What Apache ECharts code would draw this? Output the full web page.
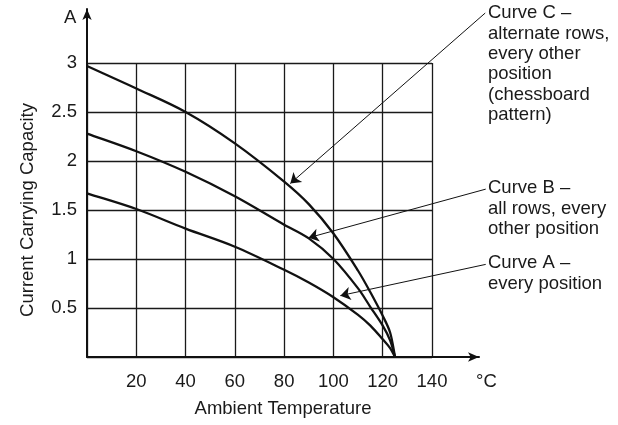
<!DOCTYPE html>
<html>
<head>
<meta charset="utf-8">
<script src="https://cdn.jsdelivr.net/npm/echarts@6/dist/echarts.min.js"></script>
<style>
html,body{margin:0;padding:0;background:#fff;}
#chart{width:618px;height:425px;}
</style>
</head>
<body>
<div id="chart"></div>
<script>
// ---- data ----
const temps  = [0, 20, 40, 60, 80, 90, 100, 110, 115, 120, 123, 125];
const curveA = [1.67, 1.51, 1.31, 1.125, 0.89, 0.76, 0.61, 0.43, 0.32, 0.18, 0.09, 0];
const curveB = [2.28, 2.10, 1.89, 1.64, 1.35, 1.21, 1.00, 0.70, 0.51, 0.32, 0.17, 0];
const curveC = [2.97, 2.74, 2.50, 2.18, 1.79, 1.56, 1.26, 0.88, 0.66, 0.42, 0.25, 0];

const xTickLabels = ['20', '40', '60', '80', '100', '120', '140'];
const yTickLabels = ['0.5', '1', '1.5', '2', '2.5', '3'];

// leader arrows (data coordinates: start -> tip)
const leaderC = [[161.6, 3.51], [82.5, 1.77]];
const leaderB = [[161.8, 1.713], [89.9, 1.217]];
const leaderA = [[161.8, 0.945], [102.8, 0.626]];

const noteC = 'Curve C –\nalternate rows,\nevery other\nposition\n(chessboard\npattern)';
const noteB = 'Curve B –\nall rows, every\nother position';
const noteA = 'Curve A –\nevery position';

const xName = 'Ambient Temperature';
const yName = 'Current Carrying Capacity';
const xUnit = '°C';
const yUnit = 'A';

// ---- chart ----
const FONT = '"Liberation Sans", Arial, sans-serif';
const FS = 18.5;
const TXT = '#1a1a1a';
const pair = (xs, ys) => xs.map((x, i) => [x, ys[i]]);

const chart = echarts.init(document.getElementById('chart'), null, {renderer: 'canvas'});

// smooth curve through the points mapped by the axes (chord-scaled Hermite -> cubic Bezier)
function smoothPath(pts) {
  const n = pts.length;
  const tan = pts.map((p, i) => {
    const a = pts[Math.max(i - 1, 0)], b = pts[Math.min(i + 1, n - 1)];
    const dx = b[0] - a[0], dy = b[1] - a[1];
    const l = Math.hypot(dx, dy) || 1;
    return [dx / l, dy / l];
  });
  let d = 'M' + pts[0][0] + ' ' + pts[0][1];
  for (let i = 0; i < n - 1; i++) {
    const p = pts[i], q = pts[i + 1];
    const L = Math.hypot(q[0] - p[0], q[1] - p[1]) / 3;
    const c1 = [p[0] + tan[i][0] * L, p[1] + tan[i][1] * L];
    const c2 = [q[0] - tan[i + 1][0] * L, q[1] - tan[i + 1][1] * L];
    d += ' C' + c1[0] + ' ' + c1[1] + ' ' + c2[0] + ' ' + c2[1] + ' ' + q[0] + ' ' + q[1];
  }
  return d;
}

const curveSeries = (name, ys) => ({
  name, type: 'custom', xAxisIndex: 0, yAxisIndex: 0,
  data: pair(temps, ys),
  clip: false,
  renderItem: (params, api) => {
    if (params.dataIndex !== 0) return null;
    const pts = temps.map((x, i) => api.coord([x, ys[i]]));
    return {
      type: 'path',
      shape: {pathData: smoothPath(pts)},
      style: {stroke: '#111', lineWidth: 2.3, fill: null},
      z2: 5
    };
  },
  z: 5
});

const noteText = (text, left, top) => ({
  type: 'text', left, top,
  style: {text, font: FS + 'px ' + FONT, fill: TXT, lineHeight: 20.4}
});

chart.setOption({
  animation: false,
  backgroundColor: '#fff',
  grid: [
    {left: 87, top: 63, width: 345, height: 294, containLabel: false},
    {left: 87, top: 9, right: 139, bottom: 68, containLabel: false}
  ],
  xAxis: [
    {
      gridIndex: 0, type: 'value', min: 0, max: 140, interval: 20,
      axisLine: {show: false}, axisTick: {show: false},
      axisLabel: {
        margin: 15, color: TXT, fontFamily: FONT, fontSize: FS,
        formatter: v => (v === 0 ? '' : xTickLabels[v / 20 - 1])
      },
      splitLine: {show: true, lineStyle: {color: '#1a1a1a', width: 1.3}}
    },
    {
      gridIndex: 1, type: 'value', min: 0, max: 1,
      axisLine: {show: true, onZero: false, symbol: ['none', 'arrow'], symbolSize: [7, 11],
        lineStyle: {color: '#111', width: 2}},
      axisTick: {show: false}, axisLabel: {show: false}, splitLine: {show: false},
      name: xName, nameLocation: 'middle', nameGap: 42,
      nameTextStyle: {color: TXT, fontFamily: FONT, fontSize: FS}
    }
  ],
  yAxis: [
    {
      gridIndex: 0, type: 'value', min: 0, max: 3, interval: 0.5,
      axisLine: {show: false}, axisTick: {show: false},
      axisLabel: {
        margin: 10, color: TXT, fontFamily: FONT, fontSize: FS, padding: [8, 0, 0, 0],
        formatter: v => (v === 0 ? '' : yTickLabels[Math.round(v / 0.5) - 1])
      },
      splitLine: {show: true, lineStyle: {color: '#1a1a1a', width: 1.3}},
      name: yName, nameLocation: 'middle', nameGap: 50, nameRotate: 90,
      nameTextStyle: {color: TXT, fontFamily: FONT, fontSize: FS}
    },
    {
      gridIndex: 1, type: 'value', min: 0, max: 1,
      axisLine: {show: true, onZero: false, symbol: ['none', 'arrow'], symbolSize: [7, 11],
        lineStyle: {color: '#111', width: 2}},
      axisTick: {show: false}, axisLabel: {show: false}, splitLine: {show: false}
    }
  ],
  graphic: [
    {type: 'text', left: 64, top: 8, style: {text: yUnit, font: FS + 'px ' + FONT, fill: TXT}},
    {type: 'text', left: 476, top: 372, style: {text: xUnit, font: FS + 'px ' + FONT, fill: TXT}},
    noteText(noteC, 488, 3),
    noteText(noteB, 488, 178),
    noteText(noteA, 488, 253)
  ],
  series: [
    curveSeries('Curve A', curveA),
    curveSeries('Curve B', curveB),
    curveSeries('Curve C', curveC),
    {
      type: 'lines', coordinateSystem: 'cartesian2d', xAxisIndex: 0, yAxisIndex: 0,
      clip: false, symbol: ['none', 'arrow'], symbolSize: 10,
      lineStyle: {color: '#111', width: 1, opacity: 1},
      data: [{coords: leaderC}, {coords: leaderB}, {coords: leaderA}],
      z: 6
    }
  ]
});
</script>
</body>
</html>
